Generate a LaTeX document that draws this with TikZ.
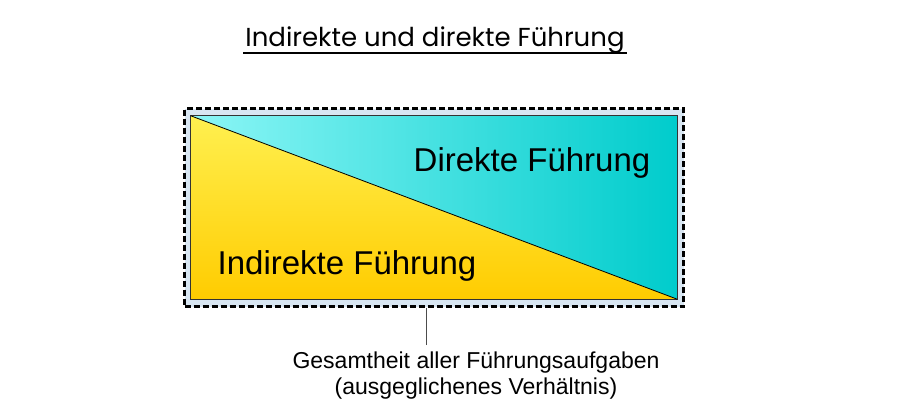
\documentclass[tikz,border=0pt]{standalone}
\usepackage{fontspec}
\setmainfont{Liberation Sans}
\newfontfamily\handfont{Poppins}
\usetikzlibrary{positioning}

\definecolor{frameblue}{HTML}{D8E6F2}
\definecolor{cyanlight}{HTML}{8CF6F6}
\definecolor{cyandark}{HTML}{00CCCC}
\definecolor{yellowlight}{HTML}{FFF050}
\definecolor{yellowdark}{HTML}{FFCC00}

\begin{document}
\begin{tikzpicture}[
        x=1pt, y=-1pt,
        every node/.style={inner sep=0pt, align=center},
        frame/.style={draw, line width=2.5pt, dash pattern=on 6pt off 3pt, fill=frameblue},
        panel/.style={draw=black!80, line width=1pt},
        big/.style={font=\fontsize{33}{38}\selectfont},
        small/.style={font=\fontsize{23}{26}\selectfont}
    ]
    \useasboundingbox (0,0) rectangle (911,415);

    % Title
    \node[font=\handfont\fontsize{26}{30}\selectfont] (title) at (435,40) {Indirekte und direkte Führung};
    \draw[line width=2pt] ([shift={(-2,7)}]title.base west) -- ([shift={(2,7)}]title.base east);

    % Frame and panel
    \node[frame, minimum width=499pt, minimum height=198pt] (outer) at (434,207.5) {};
    \node[minimum width=486pt, minimum height=183pt] (inner) at (434,207.5) {};
    \shade[left color=cyanlight, right color=cyandark]
        (inner.north west) -- (inner.north east) -- (inner.south east) -- cycle;
    \shade[top color=yellowlight, bottom color=yellowdark]
        (inner.north west) -- (inner.south east) -- (inner.south west) -- cycle;
    \draw[panel] (inner.north west) rectangle (inner.south east);
    \draw[line width=0.8pt] (inner.north west) -- (inner.south east);

    % Texts
    \node[big] (direct) at (532,163) {Direkte Führung};
    \node[big] (indirect) at (347,266) {Indirekte Führung};
    \node[small] (total) at (476,376) {Gesamtheit aller Führungsaufgaben\\(ausgeglichenes Verhältnis)};

    % Connector
    \coordinate (tick) at (426,345);
    \draw[black!70, line width=1pt] (tick) -- (tick |- outer.south);

\end{tikzpicture}
\end{document}
